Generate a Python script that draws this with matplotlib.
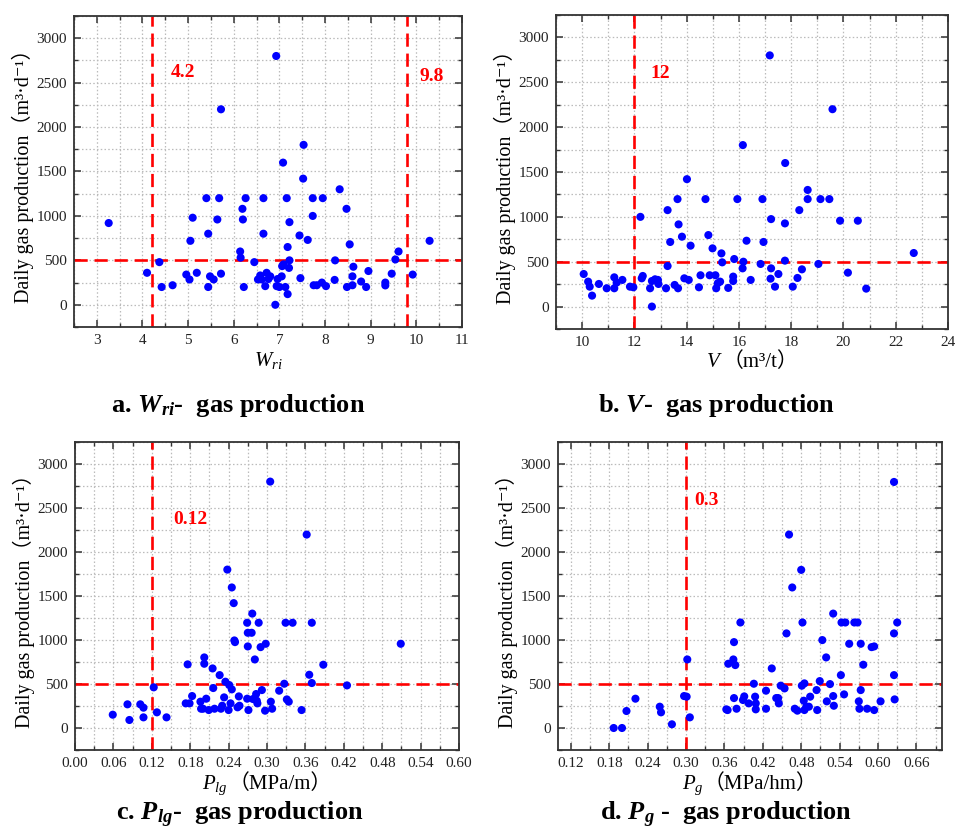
import matplotlib
matplotlib.use('Agg')
import matplotlib.pyplot as plt
from matplotlib.ticker import MultipleLocator, FormatStrFormatter
from matplotlib.offsetbox import TextArea, HPacker, AnchoredOffsetbox

plt.rcParams['font.family'] = ['Liberation Serif', 'DejaVu Serif', 'Noto Sans CJK SC']
plt.rcParams['mathtext.fontset'] = 'custom'
plt.rcParams['mathtext.rm'] = 'Liberation Serif'
plt.rcParams['mathtext.it'] = 'Liberation Serif:italic'
plt.rcParams['mathtext.bf'] = 'Liberation Serif:bold'
plt.rcParams['mathtext.bfit'] = 'Liberation Serif:italic:bold'

# ---------------- data ----------------
wri_x = [3.26, 4.10, 4.37, 4.42, 4.66, 4.96, 5.03, 5.05, 5.10, 5.19, 5.40, 5.44, 5.44, 5.48,
         5.56, 5.64, 5.68, 5.72, 5.72, 6.14, 6.15, 6.19, 6.20, 6.22, 6.26, 6.45, 6.53, 6.58,
         6.61, 6.65, 6.65, 6.69, 6.72, 6.76, 6.80, 6.91, 6.93, 6.96, 6.94, 7.00, 7.05, 7.06,
         7.08, 7.09, 7.13, 7.16, 7.18, 7.18, 7.21, 7.22, 7.22, 7.44, 7.46, 7.52, 7.53, 7.62,
         7.73, 7.73, 7.75, 7.82, 7.93, 7.95, 8.02, 8.21, 8.22, 8.32, 8.47, 8.48, 8.54, 8.60,
         8.60, 8.62, 8.79, 8.90, 8.95, 9.32, 9.32, 9.46, 9.54, 9.61, 9.92, 10.29]
wri_y = [920, 360, 480, 200, 220, 340, 285, 720, 980, 360, 1200, 800, 200, 320,
         285, 960, 1200, 2200, 350, 600, 530, 1080, 960, 200, 1200, 480, 285, 330,
         285, 1200, 800, 210, 360, 290, 320, 0, 2800, 290, 210, 200, 320, 435,
         1600, 455, 200, 1200, 650, 120, 415, 500, 930, 780, 300, 1420, 1800, 730,
         1200, 1000, 220, 220, 250, 1200, 210, 280, 500, 1300, 1080, 200, 680, 220,
         320, 428, 262, 200, 380, 250, 218, 350, 510, 600, 340, 720]

v_x = [10.06, 10.23, 10.29, 10.38, 10.64, 10.94, 11.23, 11.23, 11.32, 11.54, 11.83, 11.96,
       12.23, 12.28, 12.32, 12.60, 12.67, 12.67, 12.79, 12.90, 12.92, 13.21, 13.27, 13.27,
       13.37, 13.54, 13.65, 13.67, 13.69, 13.82, 13.91, 14.01, 14.08, 14.15, 14.47, 14.53,
       14.72, 14.83, 14.88, 14.99, 15.10, 15.13, 15.19, 15.28, 15.33, 15.36, 15.59, 15.78,
       15.78, 15.82, 15.94, 16.15, 16.17, 16.14, 16.29, 16.45, 16.83, 16.90, 16.94, 17.18,
       17.23, 17.23, 17.21, 17.38, 17.51, 17.76, 17.76, 17.77, 18.06, 18.24, 18.31, 18.41,
       18.63, 18.63, 19.04, 19.12, 19.46, 19.58, 19.87, 20.17, 20.55, 20.87, 22.69]
v_y = [363, 278, 222, 122, 252, 204, 326, 204, 267, 297, 222, 215,
       1000, 315, 341, 204, 0, 285, 304, 297, 252, 204, 452, 1075,
       720, 241, 1198, 204, 916, 779, 315, 1420, 297, 679, 215, 349,
       1198, 797, 349, 649, 349, 204, 260, 278, 593, 493, 208, 334,
       285, 530, 1198, 1800, 500, 426, 734, 297, 475, 1198, 720, 2800,
       975, 426, 311, 222, 363, 927, 512, 1600, 222, 319, 1075, 415,
       1300, 1198, 475, 1198, 1198, 2200, 957, 378, 957, 200, 597]

plg_x = [0.059, 0.082, 0.085, 0.102, 0.107, 0.107, 0.123, 0.128, 0.143, 0.173, 0.176, 0.179,
         0.183, 0.196, 0.197, 0.200, 0.202, 0.202, 0.205, 0.209, 0.215, 0.216, 0.218, 0.226,
         0.228, 0.230, 0.233, 0.235, 0.238, 0.240, 0.241, 0.243, 0.245, 0.245, 0.248, 0.249,
         0.250, 0.254, 0.256, 0.257, 0.269, 0.269, 0.270, 0.270, 0.271, 0.276, 0.277, 0.278,
         0.281, 0.283, 0.284, 0.285, 0.287, 0.290, 0.292, 0.297, 0.298, 0.305, 0.306, 0.308,
         0.319, 0.327, 0.329, 0.331, 0.334, 0.340, 0.354, 0.362, 0.366, 0.370, 0.370, 0.388,
         0.425, 0.509]
plg_y = [151, 269, 91, 269, 231, 121, 462, 178, 121, 280, 723, 280,
         363, 299, 219, 219, 802, 730, 333, 204, 677, 454, 219, 601,
         219, 253, 348, 526, 1800, 204, 488, 280, 439, 1597, 1419, 995,
         976, 235, 359, 253, 333, 1196, 927, 1082, 204, 1082, 1300, 329,
         779, 386, 310, 280, 1196, 919, 431, 197, 957, 2800, 299, 219,
         424, 503, 1196, 325, 299, 1196, 204, 2198, 605, 1196, 511, 719,
         484, 957]

pg_x = [0.187, 0.200, 0.207, 0.221, 0.259, 0.261, 0.278, 0.297, 0.301, 0.302, 0.306, 0.363,
        0.365, 0.366, 0.374, 0.375, 0.375, 0.377, 0.379, 0.385, 0.389, 0.391, 0.398, 0.406,
        0.408, 0.409, 0.409, 0.425, 0.425, 0.434, 0.441, 0.444, 0.445, 0.448, 0.454, 0.457,
        0.461, 0.466, 0.470, 0.474, 0.480, 0.481, 0.482, 0.484, 0.485, 0.485, 0.488, 0.492,
        0.494, 0.504, 0.505, 0.509, 0.513, 0.519, 0.520, 0.525, 0.530, 0.530, 0.531, 0.542,
        0.543, 0.547, 0.549, 0.555, 0.563, 0.568, 0.570, 0.571, 0.573, 0.573, 0.577, 0.583,
        0.590, 0.594, 0.594, 0.604, 0.625, 0.625, 0.625, 0.626, 0.630]
pg_y = [0, 0, 193, 333, 242, 178, 42, 363, 356, 779, 121, 212,
        204, 730, 779, 976, 340, 715, 219, 1199, 318, 359, 280, 503,
        356, 280, 212, 424, 219, 677, 340, 340, 280, 481, 450, 1075,
        2198, 1597, 219, 197, 1797, 481, 1199, 310, 507, 204, 242, 242,
        356, 431, 204, 533, 999, 802, 303, 499, 1300, 363, 253, 601,
        1199, 382, 1199, 957, 1199, 1199, 303, 219, 431, 957, 719, 219,
        919, 927, 204, 303, 2796, 1075, 601, 325, 1199]

thresholds_a = [4.2, 9.8]
thresholds_b = [12]
thresholds_c = [0.12]
thresholds_d = [0.3]
threshold_labels_a = ['4.2', '9.8']
threshold_labels_b = ['12']
threshold_labels_c = ['0.12']
threshold_labels_d = ['0.3']
y_threshold = 500

ylabel_text = 'Daily gas production（m³·d⁻¹）'
titles = [r'a. $\mathbfit{W_{ri}}$-  gas production',
          r'b. $\mathbfit{V}$-  gas production',
          r'c. $\mathbfit{P_{lg}}$-  gas production',
          r'd. $\mathbfit{P_{g}}$ -  gas production']
xlabel_parts = [[r'$W_{ri}$'],
                [r'$V$', '（m³/t）'],
                [r'$P_{lg}$', '（MPa/m）'],
                [r'$P_{g}$', '（MPa/hm）']]

# ---------------- layout ----------------
W, H = 955, 830
fig = plt.figure(figsize=(W / 100, H / 100), dpi=100)


def rect(l, r, t, b):
    return [l / W, 1 - b / H, (r - l) / W, (b - t) / H]


panels = [
    dict(x=wri_x, y=wri_y, rect=rect(74, 462, 16, 327), xlim=(2.5, 11), major=1, minor=0.5,
         fmt='%d', vlines=thresholds_a, labels=threshold_labels_a,
         label_pos=[(4.88, 2617), (10.34, 2565)], title_pos=(238, 405)),
    dict(x=v_x, y=v_y, rect=rect(556, 948, 15, 329), xlim=(9, 24), major=2, minor=1,
         fmt='%d', vlines=thresholds_b, labels=threshold_labels_b,
         label_pos=[(13.0, 2595)], title_pos=(716, 405)),
    dict(x=plg_x, y=plg_y, rect=rect(75, 459, 442, 750), xlim=(0, 0.6), major=0.06, minor=0.03,
         fmt='%.2f', vlines=thresholds_c, labels=threshold_labels_c,
         label_pos=[(0.181, 2368)], title_pos=(240, 815)),
    dict(x=pg_x, y=pg_y, rect=rect(558, 942, 442, 750), xlim=(0.1, 0.7), major=0.06, minor=0.03,
         fmt='%.2f', vlines=thresholds_d, labels=threshold_labels_d,
         label_pos=[(0.332, 2588)], title_pos=(726, 815)),
]

red = '#ff0000'
spine_c = '#333333'
for i, p in enumerate(panels):
    ax = fig.add_axes(p['rect'])
    ax.set_xlim(*p['xlim'])
    ax.set_ylim(-250, 3250)
    ax.xaxis.set_major_locator(MultipleLocator(p['major']))
    ax.xaxis.set_minor_locator(MultipleLocator(p['minor']))
    ax.xaxis.set_major_formatter(FormatStrFormatter(p['fmt']))
    ax.yaxis.set_major_locator(MultipleLocator(500))
    ax.yaxis.set_minor_locator(MultipleLocator(250))
    ax.grid(True, which='both', color='#bbbbbb', linestyle=(0, (1.2, 1.8)), linewidth=0.9)
    ax.set_axisbelow(True)
    ax.tick_params(which='both', direction='in', top=True, right=True, color=spine_c,
                   labelsize=11, labelcolor='#222222')
    ax.tick_params(which='major', length=5, width=1.1, pad=5)
    ax.tick_params(which='minor', length=3, width=1.0)
    for s in ax.spines.values():
        s.set_color(spine_c)
        s.set_linewidth(1.3)

    for xv in p['vlines']:
        ax.axvline(xv, color=red, lw=1.9, dashes=(5, 2.6), zorder=2)
    ax.axhline(y_threshold, color=red, lw=1.9, dashes=(5, 2.6), zorder=2)
    ax.scatter(p['x'], p['y'], s=34, color='#0000ff', edgecolors='none', zorder=3)
    for lab, (lx, ly) in zip(p['labels'], p['label_pos']):
        ax.text(lx, ly, lab, color=red, fontsize=14, fontweight='bold',
                ha='center', va='center', zorder=4)

    ax.set_ylabel(ylabel_text, fontsize=14.5, labelpad=2)

    parts = xlabel_parts[i]
    children = [TextArea(t, textprops=dict(fontsize=15)) for t in parts]
    pack = HPacker(children=children, align='baseline', pad=0, sep=0)
    ax_h_px = p['rect'][3] * H
    box = AnchoredOffsetbox(loc='upper center', child=pack, pad=0, borderpad=0, frameon=False,
                            bbox_to_anchor=(0.5, -23 / ax_h_px), bbox_transform=ax.transAxes)
    ax.add_artist(box)

    tx, ty = p['title_pos']
    fig.text(tx / W, 1 - ty / H, titles[i], fontsize=19, fontweight='bold',
             ha='center', va='center')

fig.savefig('out.png', dpi=100)
